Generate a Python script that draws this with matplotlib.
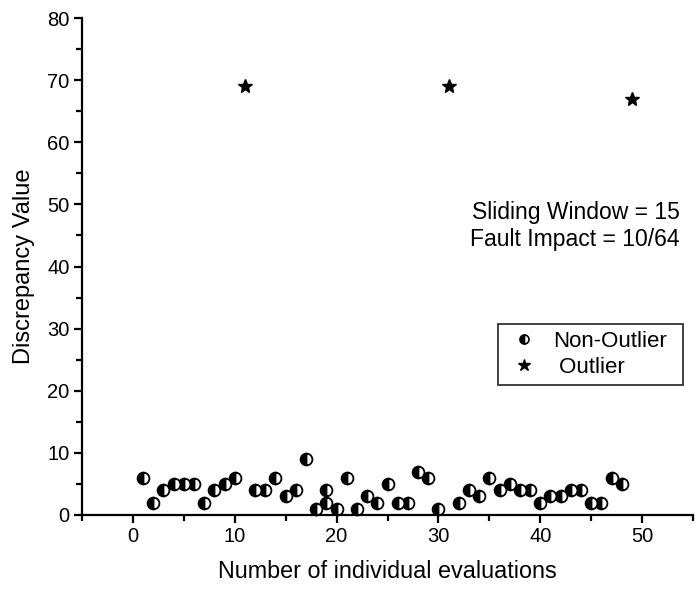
import matplotlib
matplotlib.use("Agg")
import matplotlib.pyplot as plt
from matplotlib.ticker import MultipleLocator
from matplotlib.lines import Line2D

plt.rcParams['font.family'] = ['Liberation Sans', 'DejaVu Sans']

# Non-outlier data
non_x = [1, 2, 3, 4, 5, 6, 7, 8, 9, 10, 12, 13, 14, 15, 16, 17, 18, 19, 19, 20,
         21, 22, 23, 24, 25, 26, 27, 28, 29, 30, 32, 33, 34, 35, 36, 37, 38, 39,
         40, 41, 42, 43, 44, 45, 46, 47, 48]
non_y = [6, 2, 4, 5, 5, 5, 2, 4, 5, 6, 4, 4, 6, 3, 4, 9, 1, 4, 2, 1,
         6, 1, 3, 2, 5, 2, 2, 7, 6, 1, 2, 4, 3, 6, 4, 5, 4, 4,
         2, 3, 3, 4, 4, 2, 2, 6, 5]
# Outlier data
out_x = [11, 31, 49]
out_y = [69, 69, 67]

annot_lines = ["Sliding Window = 15", "Fault Impact = 10/64"]

fig = plt.figure(figsize=(6.97, 5.90), dpi=100)
ax = fig.add_axes([82/697, 1-515/590, (693-82)/697, (515-18)/590])

ax.plot(non_x, non_y, linestyle='none', marker='o', markersize=8.5,
        fillstyle='left', markerfacecolor='black', markerfacecoloralt='white',
        markeredgecolor='black', markeredgewidth=1.3, clip_on=False)
ax.plot(out_x, out_y, linestyle='none', marker='*', markersize=10,
        color='black', clip_on=False)

ax.set_xlim(-5, 55)
ax.set_ylim(0, 80)
ax.xaxis.set_major_locator(MultipleLocator(10))
ax.xaxis.set_minor_locator(MultipleLocator(5))
ax.yaxis.set_major_locator(MultipleLocator(10))
ax.yaxis.set_minor_locator(MultipleLocator(5))
for s in ['top', 'right']:
    ax.spines[s].set_visible(False)
for s in ['left', 'bottom']:
    ax.spines[s].set_linewidth(1.6)
ax.tick_params(which='major', direction='out', length=6, width=1.6, labelsize=14.5,
               colors='black', pad=3)
ax.tick_params(which='minor', direction='out', length=4.5, width=1.6)
ax.set_xticks([0, 10, 20, 30, 40, 50])

ax.set_xlabel("Number of individual evaluations", fontsize=16.8, labelpad=10)
ax.set_ylabel("Discrepancy Value", fontsize=17, labelpad=9)

ax.text((680-82)/611, (515-226)/497, annot_lines[0] + "\n" + annot_lines[1],
        transform=ax.transAxes, ha='right', va='center', fontsize=16.5, linespacing=1.2)

handles = [
    Line2D([], [], linestyle='none', marker='o', markersize=6.5, fillstyle='left',
           markerfacecolor='black', markerfacecoloralt='white', markeredgecolor='black',
           markeredgewidth=1.2),
    Line2D([], [], linestyle='none', marker='*', markersize=9, color='black'),
]
x0 = (498-82)/611
top = (515-324)/497
w = (683-498)/611
leg = ax.legend(handles, ["Non-Outlier", " Outlier"], loc='upper left',
                bbox_to_anchor=(x0, top-0.2, w, 0.2), mode='expand', fontsize=16,
                frameon=True, fancybox=False, edgecolor='black', handletextpad=0.47,
                borderpad=0.3, labelspacing=0.25, handlelength=1.7, borderaxespad=0)
leg.get_frame().set_linewidth(1.3)

fig.savefig("out.png", dpi=100)
